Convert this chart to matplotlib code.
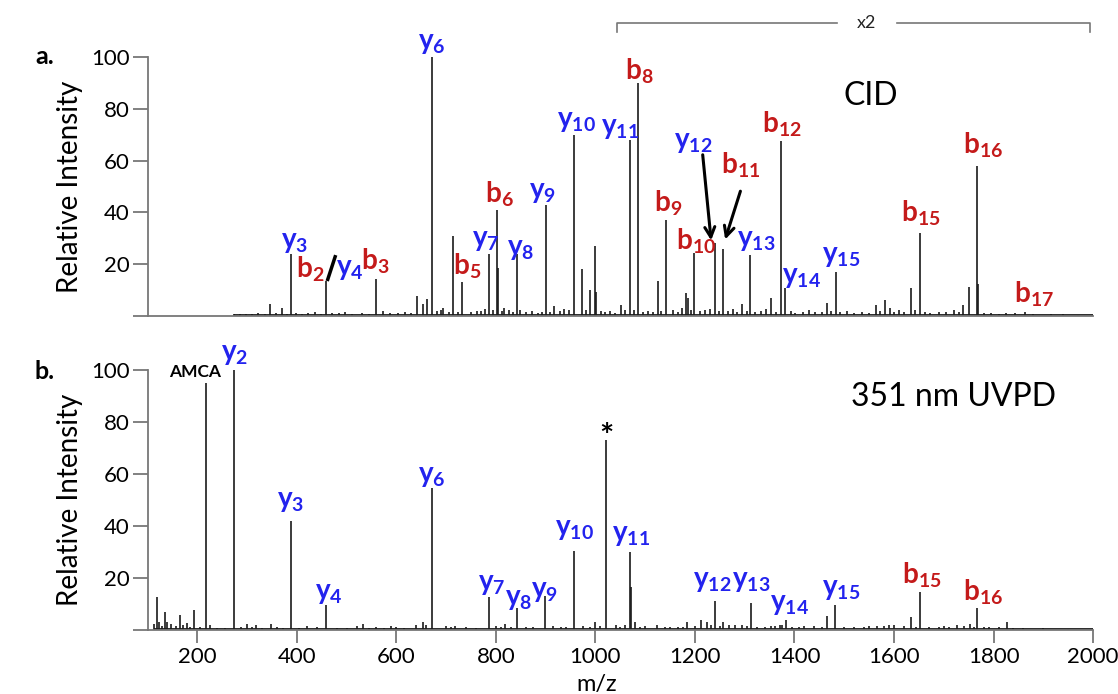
import numpy as np
import matplotlib
matplotlib.use('Agg')
from matplotlib import pyplot as plt

plt.rcParams['font.family'] = ['Lato', 'DejaVu Sans']
plt.rcParams['mathtext.fontset'] = 'custom'
plt.rcParams['mathtext.rm'] = 'Lato'
plt.rcParams['mathtext.bf'] = 'Lato:bold'
plt.rcParams['mathtext.it'] = 'Lato:italic'

BLUE = '#2323ee'
RED = '#c41a1a'

#CID spectrum (panel a): main peaks, m/z and relative intensity
cid_mz = [347, 371, 389, 459, 559, 642, 653, 661, 672, 694, 713, 732, 787, 802, 804,
          843, 900, 917, 946, 957, 973, 990, 999, 1002, 1052, 1070, 1086, 1125, 1142,
          1181, 1185, 1199, 1240, 1256, 1294, 1311, 1353, 1372, 1381, 1466, 1483,
          1564, 1582, 1592, 1610, 1634, 1653, 1690, 1720, 1738, 1750, 1766, 1769,
          1844, 1863, 1940]
cid_int = [4.7, 3.0, 24, 13.5, 14.3, 7.7, 4.5, 6.6, 100, 3.0, 31, 13, 24, 41, 18.5,
           24, 43, 4.0, 2.5, 70, 18, 10, 27, 9.3, 4.4, 68, 90, 13.5, 37,
           9.0, 7.0, 24.5, 28, 25.7, 4.8, 23.5, 6.8, 67.5, 10.8, 5.0, 16.8,
           4.2, 6.0, 2.9, 2.4, 10.8, 32, 1.6, 2.4, 4.4, 11.3, 58, 12.5,
           1.2, 1.6, 0.8]
#CID low level noise
cid_noise_mz = [273, 285, 298, 310, 322, 335, 358, 380, 398, 410, 423, 437, 448, 470,
                484, 497, 510, 531, 545, 574, 588, 603, 617, 630, 681, 689, 705, 724,
                750, 762, 770, 778, 795, 812, 816, 826, 834, 849, 860, 872, 884, 893,
                908, 928, 936, 982, 1012, 1020, 1030, 1040, 1060, 1078, 1095, 1106,
                1115, 1132, 1155, 1165, 1174, 1192, 1210, 1220, 1230, 1248, 1266, 1277,
                1285, 1304, 1320, 1333, 1342, 1362, 1392, 1402, 1418, 1430, 1442, 1455,
                1474, 1492, 1505, 1520, 1535, 1550, 1572, 1600, 1620, 1643, 1662, 1672,
                1705, 1730, 1780, 1795, 1810, 1825, 1880, 1915, 1970]
cid_noise_int = [0.8, 0.6, 0.9, 0.7, 1.0, 0.8, 1.2, 0.9, 1.3, 0.8, 1.0, 1.5, 0.9, 1.2,
                 1.0, 1.6, 0.9, 1.3, 0.8, 2.0, 1.0, 1.2, 1.5, 1.0, 1.8, 2.2, 1.5, 1.6,
                 1.4, 1.8, 2.0, 2.6, 2.2, 2.0, 3.0, 2.4, 1.6, 2.5, 1.4, 1.8, 1.2, 1.6,
                 1.4, 2.0, 2.6, 2.2, 2.0, 1.5, 1.8, 1.2, 2.4, 2.2, 1.6, 2.0,
                 1.4, 1.8, 2.5, 1.6, 3.0, 2.4, 1.8, 2.2, 2.6, 1.8, 2.0, 2.8,
                 1.6, 1.8, 1.4, 2.0, 2.6, 1.5, 1.8, 1.2, 1.6, 2.2, 1.4, 1.6,
                 2.0, 1.4, 1.8, 1.2, 1.5, 1.0, 2.0, 1.4, 1.6, 2.2, 1.4, 1.2,
                 1.4, 1.6, 1.2, 1.0, 0.8, 1.0, 0.7, 0.6, 0.5]

#351 nm UVPD spectrum (panel b)
uvpd_mz = [112, 118, 123, 135, 140, 148, 165, 172, 180, 193, 218, 226, 273, 300, 318,
           348, 388, 459, 532, 653, 672, 787, 818, 843, 899, 957, 1000, 1022, 1069,
           1072, 1079, 1183, 1213, 1224, 1241, 1257, 1268, 1294, 1312, 1370, 1383,
           1465, 1482, 1600, 1635, 1653, 1726, 1752, 1766, 1827]
uvpd_int = [2.5, 12.8, 3.0, 7.0, 3.0, 2.5, 5.8, 2.0, 2.8, 7.7, 95, 2.0, 100, 2.5, 2.0,
            2.5, 42, 9.6, 2.5, 3.0, 54.7, 12.8, 2.5, 8.3, 13, 30.4, 3.0, 73, 30,
            16.6, 3.0, 3.0, 4.0, 3.0, 11.3, 3.0, 2.0, 2.0, 10.5, 2.0, 3.8,
            5.4, 9.6, 2.0, 5.0, 14.5, 2.0, 2.5, 8.4, 3.2]
uvpd_noise_mz = [128, 157, 186, 205, 240, 255, 288, 310, 330, 360, 372, 405, 420, 440,
                 480, 500, 520, 545, 560, 575, 590, 600, 615, 640, 660, 700, 710, 718,
                 740, 760, 800, 810, 830, 860, 875, 915, 930, 940, 975, 990, 1010,
                 1041, 1050, 1060, 1090, 1100, 1124, 1140, 1150, 1165, 1175, 1200,
                 1233, 1250, 1280, 1305, 1325, 1340, 1352, 1360, 1375, 1395, 1410,
                 1420, 1440, 1455, 1500, 1520, 1540, 1550, 1565, 1580, 1590, 1620,
                 1645, 1670, 1690, 1700, 1710, 1740, 1760, 1780, 1790, 1810, 1840,
                 1860, 1900, 1950]
uvpd_noise_int = [1.5, 1.5, 1.2, 1.0, 0.8, 0.8, 1.0, 1.2, 0.8, 1.0, 0.8, 0.6, 1.5, 1.2,
                  0.8, 0.8, 1.5, 0.8, 1.0, 0.8, 1.5, 1.2, 0.8, 1.8, 2.0, 1.5, 1.0, 1.5,
                  1.0, 0.8, 1.5, 1.0, 1.0, 1.2, 1.0, 1.5, 1.0, 1.0, 1.5, 1.2, 1.5,
                  2.0, 1.2, 2.0, 1.2, 1.5, 2.0, 1.0, 1.2, 1.0, 1.0, 1.5,
                  2.0, 1.5, 2.0, 1.5, 1.2, 1.2, 1.5, 1.5, 1.8, 1.2, 1.0,
                  1.5, 1.5, 1.2, 1.0, 1.0, 1.2, 1.5, 1.5, 1.5, 1.8, 1.5,
                  1.0, 1.0, 1.2, 1.5, 1.2, 1.5, 1.2, 1.0, 1.0, 1.0, 0.8,
                  0.8, 0.6, 0.5]

#fragment labels: ion type, index, label x (m/z), label baseline (intensity)
cid_ion = ['y', 'b', 'y', 'b', 'y', 'b', 'y', 'b', 'y', 'y', 'y', 'y', 'b', 'b', 'b',
           'y', 'b', 'y', 'b', 'y', 'y', 'b', 'b', 'b']
cid_num = ['3', '2', '4', '3', '6', '5', '7', '6', '8', '9', '10', '11', '8', '9', '10',
           '12', '11', '13', '12', '14', '15', '15', '16', '17']
cid_lab_x = [395, 426, 506, 558, 672, 742, 780, 806, 849, 893, 962, 1050, 1089, 1147,
             1203, 1196, 1292, 1324, 1374, 1415, 1493, 1653, 1779, 1881]
cid_lab_y = [26.2, 14.7, 16.0, 17.9, 103, 16.0, 26.9, 44, 23.7, 45.4, 72.9, 70.3, 91.2,
             40.5, 25.6, 65, 55, 26.9, 71, 12.8, 20.7, 36.4, 62.7, 5.1]

uvpd_ion = ['y', 'y', 'y', 'y', 'y', 'y', 'y', 'y', 'y', 'y', 'y', 'y', 'y', 'b', 'b']
uvpd_num = ['2', '3', '4', '6', '7', '8', '9', '10', '11', '12', '13', '14', '15',
            '15', '16']
uvpd_lab_x = [274, 388, 464, 672, 792, 846, 898, 957, 1072, 1235, 1313, 1391, 1494,
              1655, 1778]
uvpd_lab_y = [103.8, 47.3, 12.1, 56.9, 15.3, 9.6, 12.8, 36.4, 34.3, 16.6, 16.6, 7.7,
              13.4, 17.9, 11.5]

yticks = [0, 20, 40, 60, 80, 100]
xticks = [200, 400, 600, 800, 1000, 1200, 1400, 1600, 1800, 2000]


def style_axes(ax):
    ax.set_xlim(100, 2000)
    ax.set_ylim(0, 100)
    for side in ['top', 'right']:
        ax.spines[side].set_visible(False)
    for side in ['left', 'bottom']:
        ax.spines[side].set_color('#777777')
        ax.spines[side].set_linewidth(1.3)
    ax.set_yticks(yticks)
    ax.set_yticklabels([''] + [str(v) for v in yticks[1:]])
    ax.tick_params(axis='y', length=11, width=1.3, color='#777777', labelsize=16, pad=2)
    ax.set_ylabel('Relative Intensity', fontsize=20)
    ax.yaxis.set_label_coords(-0.068, 0.5)


def draw_spectrum(ax, mz, inten, noise_mz, noise_int):
    all_mz = np.concatenate([mz, noise_mz])
    all_int = np.concatenate([inten, noise_int])
    ax.vlines(all_mz, 0, all_int, color='#1a1a1a', lw=1.2)
    ax.hlines(0.3, all_mz.min(), 2000, color='#1a1a1a', lw=1.3)


def draw_labels(ax, ions, nums, xs, ys):
    for ion, num, x, y in zip(ions, nums, xs, ys):
        c = BLUE if ion == 'y' else RED
        ax.text(x, y, r'$\mathbf{%s_{%s}}$' % (ion, num), color=c, fontsize=20,
                ha='center', va='baseline', clip_on=False)


fig = plt.figure(figsize=(11.18, 6.94), dpi=100)
ax1 = fig.add_axes([0.132, 0.5447, 0.8457, 0.3732])
ax2 = fig.add_axes([0.132, 0.0922, 0.8457, 0.3747])

#panel a: CID
draw_spectrum(ax1, cid_mz, cid_int, cid_noise_mz, cid_noise_int)
style_axes(ax1)
ax1.set_xticks([])
draw_labels(ax1, cid_ion, cid_num, cid_lab_x, cid_lab_y)
ax1.plot([461, 478], [13.5, 23.5], color='k', lw=2.5, solid_capstyle='butt', clip_on=False)
ax1.annotate('', xy=(1233, 28.1), xytext=(1215, 63.3),
             arrowprops=dict(arrowstyle='->', lw=2.2, color='k', mutation_scale=18))
ax1.annotate('', xy=(1259, 28.5), xytext=(1293, 49.2),
             arrowprops=dict(arrowstyle='->', lw=2.2, color='k', mutation_scale=18))
ax1.text(1553, 84.8, 'CID', fontsize=23, ha='center', va='center')
#x2 bracket
ax1.plot([1043, 1043, 1485], [109.6, 113.3, 113.3], color='#777777', lw=1.2, clip_on=False)
ax1.plot([1605, 1994, 1994], [113.3, 113.3, 109.6], color='#777777', lw=1.2, clip_on=False)
ax1.text(1545, 113.3, 'x2', fontsize=13, ha='center', va='center', color='#222222')

#panel b: 351 nm UVPD
draw_spectrum(ax2, uvpd_mz, uvpd_int, uvpd_noise_mz, uvpd_noise_int)
style_axes(ax2)
ax2.set_xticks(xticks)
ax2.tick_params(axis='x', length=9, width=1.3, color='#777777', labelsize=16, pad=3)
ax2.set_xlabel('m/z', fontsize=17)
ax2.xaxis.set_label_coords(0.475, -0.17)
draw_labels(ax2, uvpd_ion, uvpd_num, uvpd_lab_x, uvpd_lab_y)
ax2.text(247, 97.2, 'AMCA', fontsize=12.5, fontweight='bold', ha='right', va='baseline')
ax2.text(1022, 70.5, '*', fontsize=24, fontweight='bold', ha='center', va='baseline')
ax2.text(1720, 89.5, '351 nm UVPD', fontsize=23, ha='center', va='center')

fig.text(0.040, 0.918, 'a.', fontsize=18, fontweight='bold', ha='center', va='center')
fig.text(0.040, 0.465, 'b.', fontsize=18, fontweight='bold', ha='center', va='center')

plt.savefig('out.png', dpi=100)
